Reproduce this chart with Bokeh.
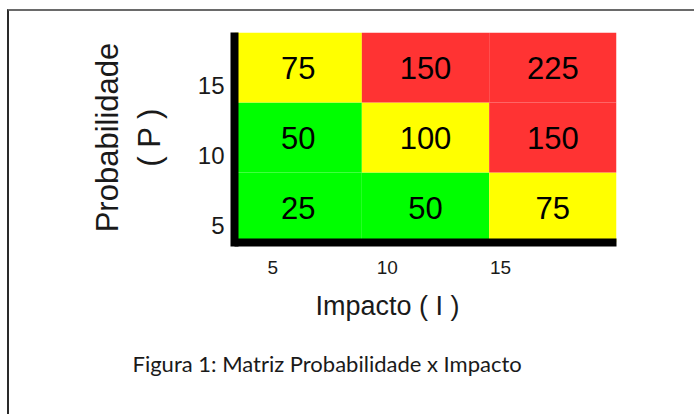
from bokeh.plotting import figure
from bokeh.models import Range1d, FixedTicker, ColumnDataSource, Title
from bokeh.core.properties import value
from bokeh.embed import file_html
from bokeh.resources import INLINE

# ---- data ----
impacto = [5, 10, 15]
probabilidade = [5, 10, 15]
# rows: probabilidade 5, 10, 15 ; columns: impacto 5, 10, 15
valores = [[25, 50, 75],
           [50, 100, 150],
           [75, 150, 225]]
niveis = [["baixo", "baixo", "medio"],
          ["baixo", "medio", "alto"],
          ["medio", "alto", "alto"]]
cores = {"baixo": "#00FF00", "medio": "#FFFF00", "alto": "#FF3333"}
titulo_x = "Impacto ( I )"
titulo_y = "Probabilidade\n( P )"
legenda = "Figura 1: Matriz Probabilidade x Impacto"

# ---- layout constants ----
X_TICK_POS = [0.30, 1.20, 2.09]
Y_TICK_POS = [0.24, 1.24, 2.24]
FONT = "Liberation Sans"

xs, ys, txt, fill = [], [], [], []
for i, p_ in enumerate(probabilidade):
    for j, im in enumerate(impacto):
        xs.append(j + 0.5)
        ys.append(i + 0.5)
        txt.append(str(valores[i][j]))
        fill.append(cores[niveis[i][j]])
src = ColumnDataSource(dict(x=xs, y=ys, t=txt, c=fill))

p = figure(width=687, height=405, output_backend="svg", toolbar_location=None,
           x_range=Range1d(0, 3), y_range=Range1d(0, 3),
           min_border_left=225, min_border_right=80,
           min_border_top=21, min_border_bottom=174)
p.styles = {"margin-left": "7px", "margin-top": "9px",
            "border-top": "2px solid #6a6a6a", "border-left": "2px solid #2a2a2a"}
p.outline_line_color = None
p.xgrid.visible = False
p.ygrid.visible = False
p.background_fill_color = "white"
p.border_fill_color = "white"

p.rect(x="x", y="y", width=1, height=1, source=src, fill_color="c", line_color=None)
p.text(x="x", y="y", text="t", source=src, text_align="center", text_baseline="middle",
       text_font=value(FONT), text_font_size="31px", text_color="black")

xa = p.xaxis[0]
ya = p.yaxis[0]
xa.ticker = FixedTicker(ticks=X_TICK_POS)
ya.ticker = FixedTicker(ticks=Y_TICK_POS)
xa.major_label_overrides = {X_TICK_POS[k]: str(v) for k, v in enumerate(impacto)}
ya.major_label_overrides = {Y_TICK_POS[k]: str(v) for k, v in enumerate(probabilidade)}
for ax in (xa, ya):
    ax.axis_line_width = 8
    ax.axis_line_color = "black"
    ax.major_tick_line_color = None
    ax.minor_tick_line_color = None
    ax.major_tick_in = 0
    ax.major_tick_out = 0
    ax.major_label_text_font = FONT
    ax.major_label_text_color = "#1a1a1a"
xa.major_label_text_font_size = "19px"
ya.major_label_text_font_size = "24px"
xa.major_label_standoff = 18
ya.major_label_standoff = 10
ya.axis_line_cap = "square"
ya.bounds = (0, 2.943)

ya.axis_label = titulo_y
ya.axis_label_text_font = FONT
ya.axis_label_text_font_size = "31px"
ya.axis_label_text_font_style = "normal"
ya.axis_label_text_color = "#1a1a1a"
ya.axis_label_standoff = 28

t1 = Title(text=titulo_x, align="left", offset=81, standoff=25,
           text_font=FONT, text_font_size="27px", text_font_style="normal",
           text_color="#1a1a1a")
t2 = Title(text=legenda, align="left", offset=-102, standoff=28,
           text_font="Lato", text_font_size="22px", text_font_style="normal",
           text_color="#1a1a1a")
p.add_layout(t1, "below")
p.add_layout(t2, "below")

open("out.html", "w").write(file_html(p, INLINE))
